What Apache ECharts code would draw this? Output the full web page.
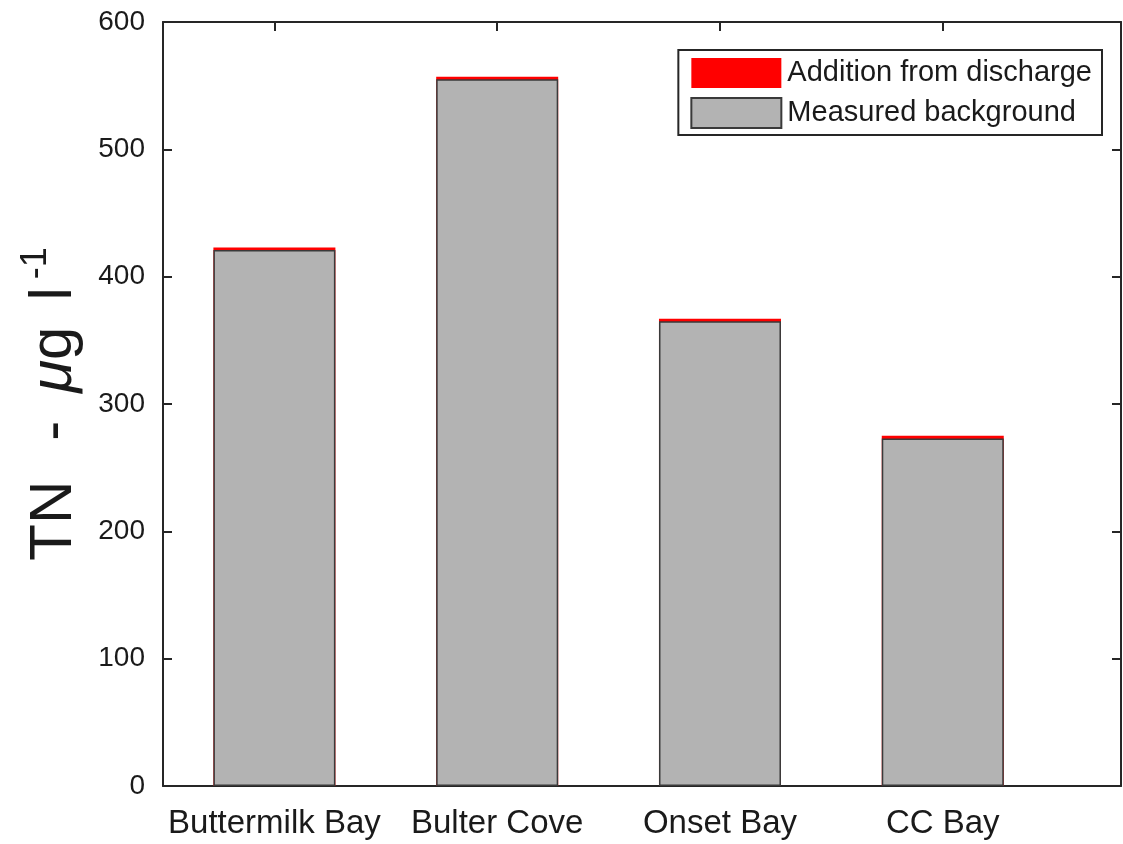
<!DOCTYPE html>
<html>
<head>
<meta charset="utf-8">
<script src="https://cdn.jsdelivr.net/npm/echarts@6/dist/echarts.min.js"></script>
<style>html,body{margin:0;padding:0;background:#fff;}#c{width:1123px;height:844px;}</style>
</head>
<body>
<div id="c"></div>
<script>
const categories = ['Buttermilk Bay', 'Bulter Cove', 'Onset Bay', 'CC Bay'];
const positions = [1, 2, 3, 4];
const background = [421, 555, 365, 273];
const addition = [2, 2, 2, 2];
const yTicks = [0, 100, 200, 300, 400, 500, 600];

const FONT = 'Liberation Sans, Arial, Helvetica, sans-serif';
const AX = '#262626';
const TXT = '#1a1a1a';

const chart = echarts.init(document.getElementById('c'), null, {renderer: 'canvas'});
const axisLineStyle = {color: AX, width: 2};
const tickStyle = {color: AX, width: 2};

// total height = measured background + addition; red drawn behind the grey bar
const totals = background.map((b, i) => b + addition[i]);

chart.setOption({
  animation: false,
  backgroundColor: '#fff',
  grid: {left: 163, right: 2, top: 22, bottom: 58, containLabel: false},
  legend: {
    orient: 'vertical',
    right: 21, top: 50,
    padding: [8, 10, 6, 12],
    icon: 'rect',
    itemWidth: 90, itemHeight: 30, itemGap: 9,
    borderColor: AX, borderWidth: 2, backgroundColor: '#fff',
    textStyle: {fontFamily: FONT, fontSize: 29, color: TXT, padding: [0, 0, 0, 1]},
    data: ['Addition from discharge', 'Measured background']
  },
  xAxis: [{
    type: 'value', min: 0.5, max: 4.8, position: 'bottom',
    axisLine: {show: true, lineStyle: axisLineStyle, onZero: false},
    splitLine: {show: false},
    axisTick: {show: true, inside: true, length: 9, lineStyle: tickStyle, customValues: positions},
    axisLabel: {
      show: true, customValues: positions, margin: 21,
      fontFamily: FONT, fontSize: 33, color: TXT,
      formatter: v => categories[positions.indexOf(v)] || ''
    }
  }, {
    type: 'value', min: 0.5, max: 4.8, position: 'top',
    axisLine: {show: true, lineStyle: axisLineStyle, onZero: false},
    splitLine: {show: false},
    axisTick: {show: true, inside: true, length: 9, lineStyle: tickStyle, customValues: positions},
    axisLabel: {show: false}
  }],
  yAxis: [{
    type: 'value', min: 0, max: 600, interval: 100, position: 'left',
    axisLine: {show: true, lineStyle: axisLineStyle},
    splitLine: {show: false},
    axisTick: {show: true, inside: true, length: 9, lineStyle: tickStyle},
    axisLabel: {margin: 18, fontFamily: FONT, fontSize: 28, color: TXT},
    name: '{a|TN}{m|-}{i|μ}{a|g}{l|l}{s|-1}',
    nameLocation: 'middle', nameRotate: 90, nameGap: 79,
    nameTextStyle: {
      fontFamily: FONT, color: TXT,
      rich: {
        a: {fontFamily: FONT, fontSize: 60, color: TXT, verticalAlign: 'bottom'},
        m: {fontFamily: FONT, fontSize: 60, color: TXT, verticalAlign: 'bottom', padding: [0, 28, 0, 40]},
        i: {fontFamily: FONT, fontSize: 60, fontStyle: 'italic', color: TXT, verticalAlign: 'bottom'},
        l: {fontFamily: FONT, fontSize: 60, color: TXT, verticalAlign: 'bottom', padding: [0, 0, 0, 26]},
        s: {fontFamily: FONT, fontSize: 36, color: TXT, verticalAlign: 'bottom', padding: [0, 0, 30, 8]}
      }
    }
  }, {
    type: 'value', min: 0, max: 600, interval: 100, position: 'right',
    axisLine: {show: true, lineStyle: axisLineStyle},
    splitLine: {show: false},
    axisTick: {show: true, inside: true, length: 9, lineStyle: tickStyle},
    axisLabel: {show: false}
  }],
  series: [{
    name: 'Addition from discharge', type: 'bar',
    xAxisIndex: 0, yAxisIndex: 0, barWidth: 122, barGap: '-100%',
    itemStyle: {color: '#ff0000', borderWidth: 0},
    data: positions.map((p, i) => [p, totals[i]])
  }, {
    name: 'Measured background', type: 'bar',
    xAxisIndex: 0, yAxisIndex: 0, barWidth: 122, barGap: '-100%',
    itemStyle: {color: '#b3b3b3', borderColor: '#3a3a3a', borderWidth: 1.5},
    data: positions.map((p, i) => [p, background[i]])
  }]
});
</script>
</body>
</html>
